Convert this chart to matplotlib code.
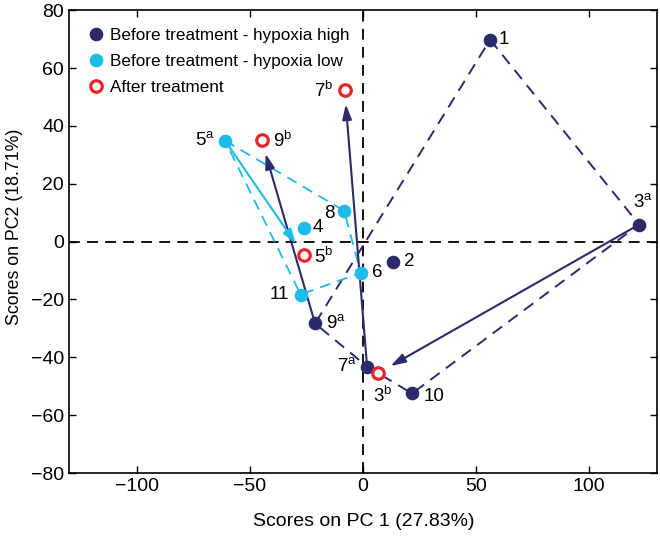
import matplotlib
matplotlib.use("Agg")
import matplotlib.pyplot as plt

plt.rcParams['font.family'] = ['Liberation Sans', 'DejaVu Sans']
plt.rcParams['mathtext.fontset'] = 'custom'
plt.rcParams['mathtext.rm'] = 'Liberation Sans'

# Before treatment - hypoxia high
high_names = ['1', '3', '2', '9', '7', '10']
high_sup = ['', 'a', '', 'a', 'a', '']
high_x = [56.2, 122.1, 13.3, -21.2, 1.8, 21.7]
high_y = [69.8, 5.9, -6.9, -28.3, -43.2, -52.5]

# Before treatment - hypoxia low
low_names = ['5', '8', '4', '6', '11']
low_sup = ['a', '', '', '', '']
low_x = [-61.0, -8.4, -26.1, -1.0, -27.6]
low_y = [34.9, 10.7, 4.8, -10.8, -18.3]

# After treatment
after_names = ['9', '5', '7', '3']
after_sup = ['b', 'b', 'b', 'b']
after_x = [-44.8, -26.1, -8.1, 6.8]
after_y = [35.0, -4.8, 52.3, -45.4]

# polygons (by names)
high_poly = ['1', '3', '10', '7', '9', '1']
low_poly = ['5', '8', '6', '11', '5']

# arrows: before (name, group) -> after name
arrows = [('9', 'high', '9'), ('7', 'high', '7'), ('3', 'high', '3'), ('5', 'low', '5')]

DARK = '#2B2A6B'
LIGHT = '#1DBBEA'
RED = '#E8252A'

fig = plt.figure(figsize=(6.6, 5.36), dpi=100)
ax = fig.add_axes([0.1045, 0.1175, 0.891, 0.8635])

DASH = (0, (6, 4))
ax.axhline(0, color='black', ls=DASH, lw=1.3, zorder=1)
ax.axvline(0, color='black', ls=DASH, lw=1.3, zorder=1)

hd = {n: (x, y) for n, x, y in zip(high_names, high_x, high_y)}
ld = {n: (x, y) for n, x, y in zip(low_names, low_x, low_y)}
ad = {n: (x, y) for n, x, y in zip(after_names, after_x, after_y)}

ax.plot([hd[n][0] for n in high_poly], [hd[n][1] for n in high_poly],
        color=DARK, ls=DASH, lw=1.4, zorder=2)
ax.plot([ld[n][0] for n in low_poly], [ld[n][1] for n in low_poly],
        color=LIGHT, ls=DASH, lw=1.3, zorder=2)

for src, grp, dst in arrows:
    p0 = hd[src] if grp == 'high' else ld[src]
    p1 = ad[dst]
    col = DARK if grp == 'high' else LIGHT
    ax.annotate('', xy=p1, xytext=p0,
                arrowprops=dict(arrowstyle='-|>,head_length=0.9,head_width=0.28',
                                color=col, lw=1.5, shrinkA=0, shrinkB=10),
                zorder=3)

ax.plot(high_x, high_y, 'o', color=DARK, ms=8.8, zorder=4, ls='none',
        label='Before treatment - hypoxia high')
ax.plot(low_x, low_y, 'o', color=LIGHT, ms=8.8, zorder=4, ls='none',
        label='Before treatment - hypoxia low')
ax.plot(after_x, after_y, 'o', mfc='white', mec=RED, mew=2.3, ms=8.3, zorder=5,
        ls='none', label='After treatment')

def lab(n, s):
    return n + (r'$^{\mathrm{%s}}$' % s if s else '')

high_off = {'1': (6, 0, 'left', 'center'), '3': (3, 9, 'center', 'bottom'),
            '2': (8, 0, 'left', 'center'), '9': (8, 0, 'left', 'center'),
            '7': (-7, 0, 'right', 'center'), '10': (8, -2, 'left', 'center')}
low_off = {'5': (-7, 0, 'right', 'center'), '8': (-7, -2, 'right', 'center'),
           '4': (6, 0, 'left', 'center'), '6': (8, 0, 'left', 'center'),
           '11': (-8, 0, 'right', 'center')}
after_off = {'9': (8, 0, 'left', 'center'), '5': (7, -1, 'left', 'center'),
             '7': (-8, 0, 'right', 'center'), '3': (3, -9, 'center', 'top')}

for names, sups, xs, ys, offs in [(high_names, high_sup, high_x, high_y, high_off),
                                  (low_names, low_sup, low_x, low_y, low_off),
                                  (after_names, after_sup, after_x, after_y, after_off)]:
    for n, s, x, y in zip(names, sups, xs, ys):
        dx, dy, ha, va = offs[n]
        ax.annotate(lab(n, s), (x, y), xytext=(dx, dy), textcoords='offset points',
                    ha=ha, va=va, fontsize=13.5, zorder=6)

ax.set_xlim(-130, 130)
ax.set_ylim(-80, 80)
ax.set_xticks([-100, -50, 0, 50, 100])
ax.set_yticks([-80, -60, -40, -20, 0, 20, 40, 60, 80])
ax.set_xticklabels(['\u2212100', '\u221250', '0', '50', '100'])
ax.set_yticklabels(['\u221280', '\u221260', '\u221240', '\u221220', '0', '20', '40', '60', '80'])
ax.tick_params(direction='in', top=True, right=True, labelsize=14, length=5, width=1)
for sp in ax.spines.values():
    sp.set_linewidth(1.2)
ax.set_xlabel('Scores on PC 1 (27.83%)', fontsize=14)
ax.set_ylabel('Scores on PC2 (18.71%)', fontsize=12.8)
ax.xaxis.set_label_coords(0.502, -0.087)
ax.yaxis.set_label_coords(-0.079, 0.531)

ax.legend(loc='upper left', frameon=False, fontsize=12.3, handletextpad=0.2,
          borderaxespad=0.4, labelspacing=0.62, handlelength=1.2,
          bbox_to_anchor=(0.006, 0.99))

fig.savefig('out.png', dpi=100)
